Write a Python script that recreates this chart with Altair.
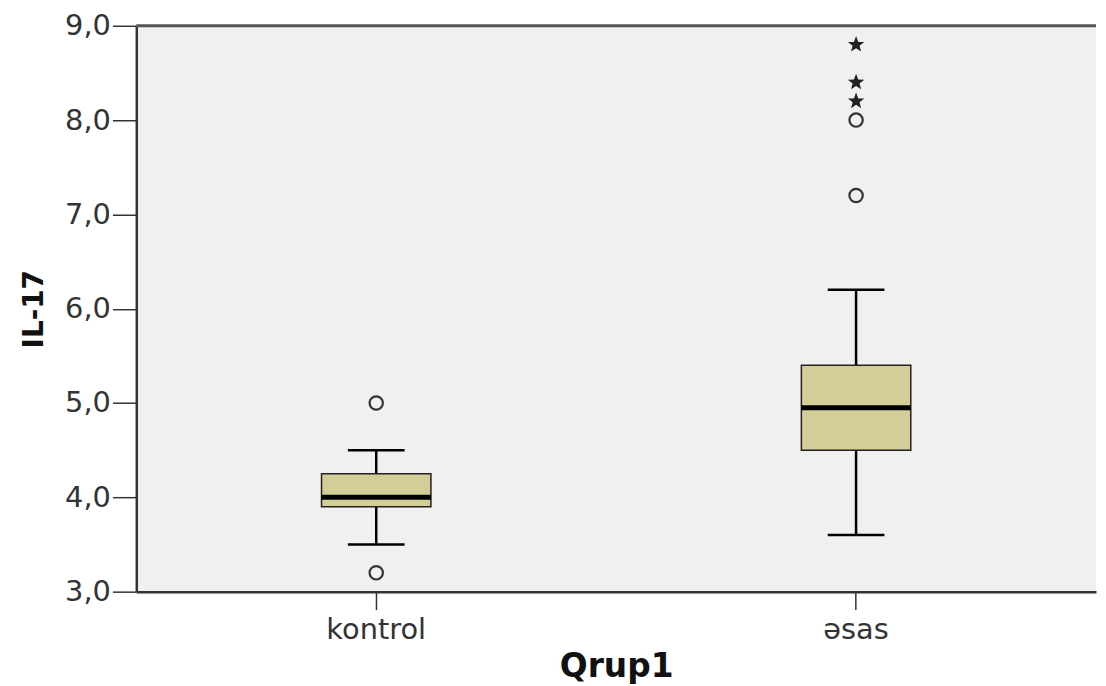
import altair as alt
import pandas as pd

groups = ["kontrol", "əsas"]
whisker_low = [3.5, 3.6]
q1 = [3.9, 4.5]
median = [4.0, 4.95]
q3 = [4.25, 5.4]
whisker_high = [4.5, 6.2]

circle_group = ["kontrol", "kontrol", "əsas", "əsas"]
circle_vals = [5.0, 3.2, 7.2, 8.0]
star_group = ["əsas", "əsas", "əsas"]
star_vals = [8.2, 8.4, 8.8]

box_df = pd.DataFrame({"group": groups, "lo": whisker_low, "q1": q1,
                       "med": median, "q3": q3, "hi": whisker_high})
circ_df = pd.DataFrame({"group": circle_group, "v": circle_vals})
star_df = pd.DataFrame({"group": star_group, "v": star_vals})

STAR = ("M0,-1L0.25,-0.32L0.951,-0.309L0.4,0.13L0.588,0.809L0,0.42"
        "L-0.588,0.809L-0.4,0.13L-0.951,-0.309L-0.25,-0.32Z")

x_enc = alt.X("group:N", sort=groups, title="Qrup1",
              scale=alt.Scale(domain=groups, paddingInner=0, paddingOuter=0),
              axis=alt.Axis(labelAngle=0, tickSize=18, tickWidth=1.5, tickColor="#333",
                            domainColor="#333", domainWidth=2.5,
                            labelFont="DejaVu Sans", labelFontSize=29, labelColor="#333",
                            labelPadding=6, titleFont="DejaVu Sans", titleFontSize=33,
                            titleFontWeight="bold", titleColor="#111", titlePadding=6))
y_scale = alt.Scale(domain=[3, 9], nice=False, zero=False)
y_axis = alt.Axis(values=[3, 4, 5, 6, 7, 8, 9], grid=False, tickSize=24, tickWidth=1.5,
                  tickColor="#333", domainColor="#333", domainWidth=2.5,
                  labelFont="DejaVu Sans", labelFontSize=29, labelColor="#333", labelPadding=2,
                  labelExpr="replace(format(datum.value, '.1f'), '.', ',')",
                  titleFont="DejaVu Sans", titleFontSize=28, titleFontWeight="bold",
                  titleColor="#111", titlePadding=16)

base = alt.Chart(box_df)

whisk = base.mark_rule(color="black", strokeWidth=2.5).encode(
    x=x_enc, y=alt.Y("lo:Q", scale=y_scale, axis=y_axis, title="IL-17"), y2="hi:Q")
box = base.mark_bar(size=110, fill="#d3ce97", stroke="#222", strokeWidth=1.5, opacity=1).encode(
    x=x_enc, y="q1:Q", y2="q3:Q")
med = base.mark_tick(size=110, thickness=5, color="black", opacity=1).encode(x=x_enc, y="med:Q")
cap_lo = base.mark_tick(size=57, thickness=2.5, color="black", opacity=1).encode(x=x_enc, y="lo:Q")
cap_hi = base.mark_tick(size=57, thickness=2.5, color="black", opacity=1).encode(x=x_enc, y="hi:Q")

circ = alt.Chart(circ_df).mark_point(shape="circle", filled=False, size=180, opacity=1,
                                     stroke="#333", strokeWidth=2.2).encode(x=x_enc, y="v:Q")
star = alt.Chart(star_df).mark_point(shape=STAR, filled=True, size=300, opacity=1,
                                     fill="#222", strokeWidth=0).encode(x=x_enc, y="v:Q")

top = alt.Chart(alt.Data(values=[{"a": 1}])).mark_rule(color="#555", strokeWidth=3).encode(
    y=alt.datum(9))

chart = alt.layer(whisk, box, med, cap_lo, cap_hi, circ, star, top).properties(
    width=965, height=569, padding={"left": 12, "top": 2, "right": 0, "bottom": 5},
    view=alt.ViewBackground(fill="#f0f0f0", stroke="transparent", strokeWidth=0)
).configure_view(fill="#f0f0f0", strokeWidth=0, stroke="transparent").configure(background="white")

chart.save("out.html", embed_options={"renderer": "svg", "actions": False})
